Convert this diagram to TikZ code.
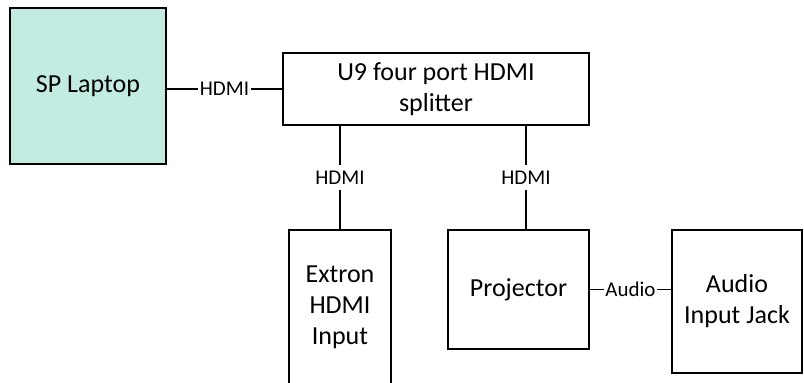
\documentclass[tikz,border=0pt]{standalone}
\usepackage{fontspec}
\setmainfont{Carlito}
\usetikzlibrary{positioning}
\definecolor{laptopfill}{RGB}{194,235,225}

\begin{document}
\begin{tikzpicture}[x=1pt,y=-1pt,line width=1.9pt,
    box/.style={draw, align=center, inner sep=0pt, font=\fontsize{26}{31}\selectfont},
    wire label/.style={fill=white, inner xsep=1.5pt, inner ysep=6pt, font=\fontsize{21}{24}\selectfont}]
  \useasboundingbox (0,0) rectangle (804,383);
  \clip (0,0) rectangle (804,383);
  % Nodes
  \node[box, fill=laptopfill, minimum width=156, minimum height=156] (laptop) at (88,86) {SP Laptop};
  \node[box, minimum width=306, minimum height=72] (splitter) at (436,89) {U9 four port HDMI\\splitter};
  \node[box, minimum width=102, minimum height=155] (extron) at (340,307.5) {Extron\\HDMI\\Input};
  \node[box, minimum width=141, minimum height=119] (projector) at (518.5,289.5) {Projector};
  \node[box, minimum width=130, minimum height=143] (jack) at (737,301.5) {Audio\\Input Jack};
  \coordinate (projin) at ([xshift=7.5pt]projector.north);

  % Wires
  \path
  (laptop.east |- splitter.west) edge node[wire label] {HDMI} (splitter.west)
  (splitter.south -| extron.north) edge node[wire label] {HDMI} (extron.north)
  (projin |- splitter.south) edge node[wire label] {HDMI} (projin)
  (projector.east) edge node[wire label] {Audio} (projector.east -| jack.west);
\end{tikzpicture}
\end{document}
